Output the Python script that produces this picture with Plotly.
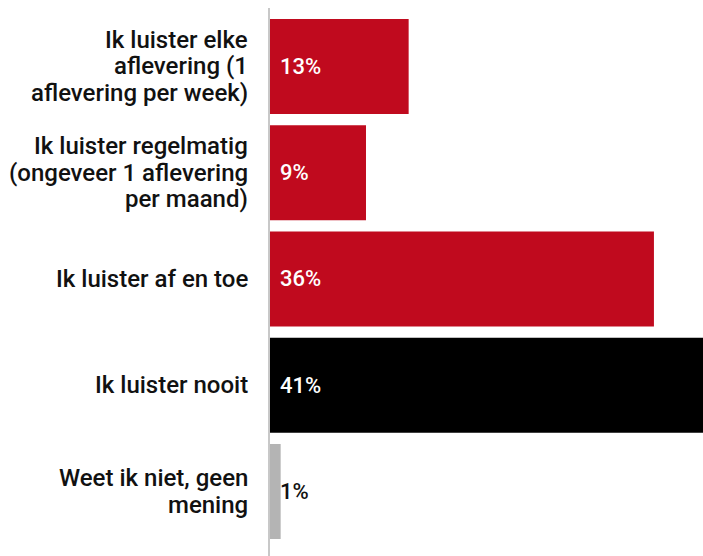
import plotly.graph_objects as go

categories = [
    "Ik luister elke<br>aflevering (1<br>aflevering per week)",
    "Ik luister regelmatig<br>(ongeveer 1 aflevering<br>per maand)",
    "Ik luister af en toe",
    "Ik luister nooit",
    "Weet ik niet, geen<br>mening",
]
values = [13, 9, 36, 41, 1]
value_labels = ["13%", "9%", "36%", "41%", "1%"]
bar_colors = ["#C00A1E", "#C00A1E", "#C00A1E", "#000000", "#B4B4B4"]
label_colors = ["#FFFFFF", "#FFFFFF", "#FFFFFF", "#FFFFFF", "#111111"]

FONT = "Roboto"
LABEL_SIZE = 24
LINE_GAP = 26.7

fig = go.Figure(
    go.Bar(
        x=values,
        y=categories,
        orientation="h",
        marker=dict(color=bar_colors, line=dict(width=0)),
        hoverinfo="skip",
    )
)

# category labels, one annotation per line for tighter line spacing
for cat in categories:
    lines = cat.split("<br>")
    n = len(lines)
    for i, line in enumerate(lines):
        fig.add_annotation(
            x=0, xref="paper", y=cat, yref="y",
            text=line, showarrow=False, xanchor="right", yanchor="middle",
            align="right",
            xshift=-20, yshift=((n - 1) / 2 - i) * LINE_GAP,
            font=dict(family=FONT, size=LABEL_SIZE, color="#111111", weight=500),
        )

# value labels
for cat, lab, col in zip(categories, value_labels, label_colors):
    fig.add_annotation(
        x=0, y=cat, xref="x", yref="y",
        text=lab, showarrow=False, xanchor="left", yanchor="middle",
        xshift=8,
        font=dict(family=FONT, size=22, color=col, weight=500),
    )

fig.update_layout(
    width=703, height=556,
    margin=dict(l=270, r=0, t=8, b=0, pad=0),
    paper_bgcolor="white", plot_bgcolor="white",
    bargap=0.106,
    showlegend=False,
    font=dict(family=FONT, size=LABEL_SIZE, color="#111111"),
)
fig.update_xaxes(range=[0, 40.6], visible=False, fixedrange=True)
fig.update_yaxes(
    range=[4.607, -0.55],
    automargin=False,
    showline=True, linecolor="#C8C8C8", linewidth=2,
    showgrid=False, zeroline=False,
    ticks="", showticklabels=False,
    fixedrange=True,
)

fig.write_html(
    "out.html",
    config={"displayModeBar": False},
    post_script="document.body.style.margin='0';document.body.style.overflow='hidden';",
)
